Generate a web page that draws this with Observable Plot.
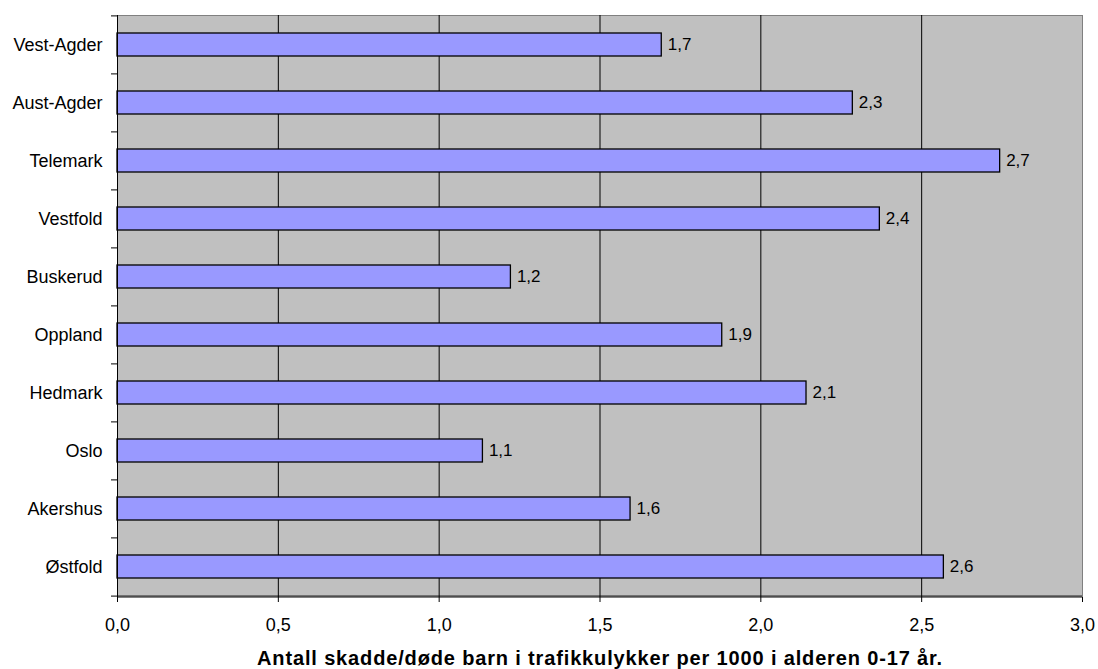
<!DOCTYPE html>
<html>
<head>
<meta charset="utf-8">
<script src="https://cdn.jsdelivr.net/npm/d3@7"></script>
<script src="https://cdn.jsdelivr.net/npm/@observablehq/plot@0.6"></script>
<style>
  html, body { margin: 0; padding: 0; background: #fff; }
  #chart svg { font-family: "Liberation Sans", Arial, sans-serif; }
</style>
</head>
<body>
<div id="chart"></div>
<script>
const counties = ["Vest-Agder", "Aust-Agder", "Telemark", "Vestfold", "Buskerud", "Oppland", "Hedmark", "Oslo", "Akershus", "Østfold"];
const values = [1.692, 2.286, 2.744, 2.370, 1.223, 1.880, 2.142, 1.136, 1.595, 2.569];
const xTicks = [0, 0.5, 1.0, 1.5, 2.0, 2.5, 3.0];
const title = "Antall skadde/døde barn i trafikkulykker per 1000 i alderen 0-17 år.";

const data = counties.map((c, i) => ({county: c, value: values[i]}));
const comma = d => d3.format(".1f")(d).replace(".", ",");

const W = 1098, H = 669;
const mL = 117, mR = 16, mT = 15, mB = 72;
const halfStep = (H - mT - mB) / counties.length / 2;

const chart = Plot.plot({
  width: W,
  height: H,
  marginLeft: mL,
  marginRight: mR,
  marginTop: mT,
  marginBottom: mB,
  style: {fontFamily: "'Liberation Sans', Arial, sans-serif", fontSize: "18px", color: "#000", background: "#fff"},
  x: {domain: [0, 3], label: null},
  y: {domain: counties, paddingInner: 0.6, paddingOuter: 0.3, label: null},
  marks: [
    Plot.frame({fill: "#C0C0C0", stroke: "#808080", strokeWidth: 1}),
    Plot.ruleX(xTicks.filter(t => t > 0 && t < 3), {stroke: "#000", strokeWidth: 1}),
    Plot.barX(data, {x: "value", y: "county", fill: "#9999FF", stroke: "#000", strokeWidth: 1.3}),
    Plot.text(data, {x: "value", y: "county", text: d => comma(Math.round(d.value * 10) / 10), textAnchor: "start", dx: 6, fontSize: 17, fill: "#000"}),
    Plot.ruleX([0], {stroke: "#000", strokeWidth: 1}),
    Plot.ruleY([counties[counties.length - 1]], {x1: 0, x2: 3, dy: halfStep, stroke: "#000", strokeWidth: 1}),
    Plot.axisX({ticks: xTicks, tickFormat: comma, tickSize: 5, tickPadding: 16, fontSize: 18, label: null, stroke: "#000"}),
    Plot.axisY({tickSize: 0, tickPadding: 15, fontSize: 18, label: null}),
    Plot.axisY({tickSize: 6, text: null, dy: -halfStep, label: null, stroke: "#000"}),
    Plot.axisY({ticks: [counties[counties.length - 1]], tickSize: 6, text: null, dy: halfStep, label: null, stroke: "#000"}),
    Plot.text([title], {frameAnchor: "bottom", dy: 67, lineAnchor: "bottom", fontSize: 20, fontWeight: "bold", textAnchor: "middle", fill: "#000"})
  ]
});
d3.select(chart).selectAll("text").filter(function() { return this.textContent === title; })
  .style("letter-spacing", "0.85px");
document.getElementById("chart").appendChild(chart);
</script>
</body>
</html>
